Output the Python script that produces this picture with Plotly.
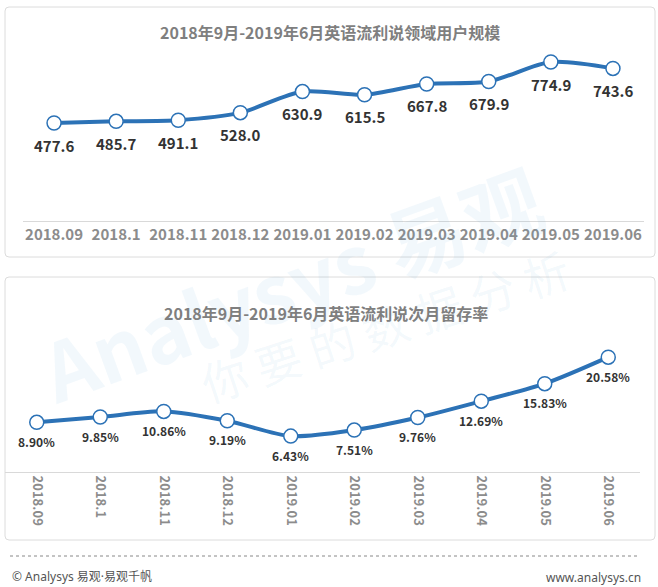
import plotly.graph_objects as go

# 数据
months = ["2018.09", "2018.1", "2018.11", "2018.12", "2019.01",
          "2019.02", "2019.03", "2019.04", "2019.05", "2019.06"]
users = [477.6, 485.7, 491.1, 528.0, 630.9, 615.5, 667.8, 679.9, 774.9, 743.6]
retention = [8.90, 9.85, 10.86, 9.19, 6.43, 7.51, 9.76, 12.69, 15.83, 20.58]

title_top = "2018年9月-2019年6月英语流利说领域用户规模"
title_bottom = "2018年9月-2019年6月英语流利说次月留存率"

W, H = 658, 587
BLUE = "#2c72b6"
FONT = "Noto Sans CJK SC"


def px_x(v):
    return v / W


def px_y(v):
    return 1 - v / H


def rounded_box(x0, y0, x1, y1, r=4):
    # 像素坐标 -> paper 坐标的圆角矩形
    X0, X1 = px_x(x0), px_x(x1)
    Y0, Y1 = px_y(y1), px_y(y0)
    rx, ry = r / W, r / H
    return (f"M {X0+rx},{Y0} L {X1-rx},{Y0} Q {X1},{Y0} {X1},{Y0+ry} "
            f"L {X1},{Y1-ry} Q {X1},{Y1} {X1-rx},{Y1} L {X0+rx},{Y1} "
            f"Q {X0},{Y1} {X0},{Y1-ry} L {X0},{Y0+ry} Q {X0},{Y0} {X0+rx},{Y0} Z")


def paper_text(x, y, text, size, color, **kw):
    return dict(x=px_x(x), y=px_y(y), xref="paper", yref="paper", text=text,
                showarrow=False, xanchor=kw.pop("xanchor", "center"), yanchor="middle",
                font=dict(family=kw.pop("family", FONT), size=size, color=color,
                          weight=kw.pop("weight", "normal")), **kw)


fig = go.Figure()

line_style = dict(color=BLUE, width=4, shape="spline", smoothing=0.8)
marker_style = dict(size=14, color="white", line=dict(color=BLUE, width=1.5))

fig.add_trace(go.Scatter(x=months, y=users, mode="lines+markers",
                         line=line_style, marker=marker_style,
                         xaxis="x", yaxis="y", hoverinfo="skip"))
fig.add_trace(go.Scatter(x=months, y=retention, mode="lines+markers",
                         line=line_style, marker=marker_style,
                         xaxis="x2", yaxis="y2", hoverinfo="skip"))

# 类别轴上的注释用序号定位（数字样式的字符串会被当作序号）
annotations = []
for i, v in enumerate(users):
    annotations.append(dict(x=i, y=v, xref="x", yref="y", text=f"{v:.1f}",
                            showarrow=False, yshift=-22,
                            font=dict(family=FONT, size=15, color="#333333", weight="bold")))
for i, v in enumerate(retention):
    annotations.append(dict(x=i, y=v, xref="x2", yref="y2", text=f"{v:.2f}%",
                            showarrow=False, yshift=-19,
                            font=dict(family=FONT, size=12, color="#333333", weight="bold")))

# 水印
annotations.append(paper_text(290, 282, "Analysys 易观", 80, "rgba(90,160,215,0.08)",
                              weight="bold", textangle=-20))
annotations.append(paper_text(385, 325, "你 要 的 数 据 分 析", 46, "rgba(90,160,215,0.07)",
                              textangle=-18))

# 标题
annotations.append(paper_text(330, 32, title_top, 16, "#7f7f7f", weight="bold"))
annotations.append(paper_text(326, 313, title_bottom, 16, "#7f7f7f", weight="bold"))

# 页脚
annotations.append(paper_text(10, 576, "© Analysys 易观·易观千帆", 12, "#555555",
                              xanchor="left", family="Noto Sans, Noto Sans CJK SC"))
annotations.append(paper_text(643, 577, "www.analysys.cn", 12, "#555555",
                              xanchor="right", family="Noto Sans, Noto Sans CJK SC"))

shapes = [
    dict(type="path", xref="paper", yref="paper", path=rounded_box(5, 7, 655, 257),
         line=dict(color="#dcdcdc", width=1), layer="below"),
    dict(type="path", xref="paper", yref="paper", path=rounded_box(5, 277, 655, 540),
         line=dict(color="#dcdcdc", width=1), layer="below"),
    dict(type="line", xref="paper", yref="paper", x0=px_x(10), x1=px_x(640),
         y0=px_y(556), y1=px_y(556), line=dict(color="#888888", width=1, dash="dot")),
]

axis_common = dict(type="category", showgrid=False, zeroline=False, ticks="",
                   showline=True, linecolor="#d9d9d9", linewidth=1,
                   range=[-0.5, len(months) - 0.5])

fig.update_layout(
    width=W, height=H,
    margin=dict(l=0, r=0, t=0, b=0),
    paper_bgcolor="white", plot_bgcolor="rgba(0,0,0,0)",
    showlegend=False,
    xaxis=dict(**axis_common, domain=[px_x(23), px_x(644)], anchor="y",
               tickfont=dict(family=FONT, size=15, color="#8c8c8c", weight="bold"),
               tickangle=0),
    yaxis=dict(range=[0, 850], domain=[px_y(221), px_y(46.6)], visible=False),
    xaxis2=dict(**axis_common, domain=[px_x(5), px_x(640)], anchor="y2",
                tickfont=dict(family=FONT, size=13, color="#8c8c8c", weight="bold"),
                tickangle=90),
    yaxis2=dict(range=[0, 25], domain=[px_y(472), px_y(332.5)], visible=False),
    annotations=annotations,
    shapes=shapes,
)

# 去掉浏览器默认的 body 外边距，使图与窗口左上角对齐
fig.write_html("out.html", config={"displayModeBar": False},
               post_script="document.body.style.margin='0';"
                           "document.documentElement.style.overflow='hidden';")
